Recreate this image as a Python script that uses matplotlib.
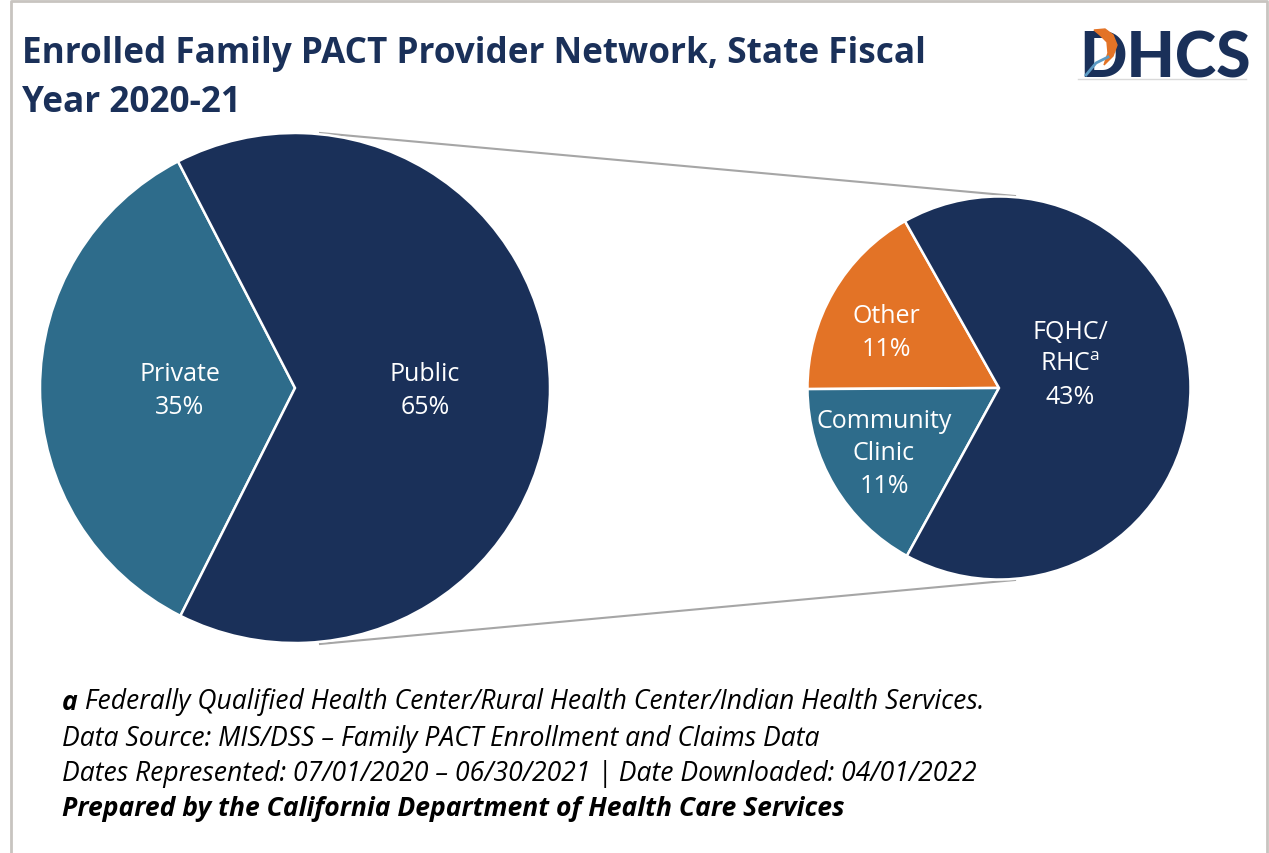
import matplotlib
matplotlib.use('Agg')
import matplotlib.pyplot as plt
from matplotlib.patches import Polygon
from matplotlib.lines import Line2D

# ---------------- data ----------------
title_lines = ["Enrolled Family PACT Provider Network, State Fiscal", "Year 2020-21"]
main_labels = ["Private", "Public"]
main_values = [35, 65]
sub_labels = ["Other", "Community\nClinic", "FQHC/\nRHC$^{\\mathrm{a}}$"]
sub_values = [11, 11, 43]
foot_a = "a"
foot_lines = [" Federally Qualified Health Center/Rural Health Center/Indian Health Services.",
              "Data Source: MIS/DSS \u2013 Family PACT Enrollment and Claims Data",
              "Dates Represented: 07/01/2020 \u2013 06/30/2021 | Date Downloaded: 04/01/2022",
              "Prepared by the California Department of Health Care Services"]

NAVY = "#1A3059"
TEAL = "#2E6C8B"
ORANGE = "#E37326"
GRAY = "#A6A6A6"

plt.rcParams['font.family'] = ['Open Sans', 'DejaVu Sans']
plt.rcParams['mathtext.fontset'] = 'custom'
plt.rcParams['mathtext.rm'] = 'Open Sans'

W, H = 1269, 854
fig = plt.figure(figsize=(W / 100, H / 100), dpi=100)
ax = fig.add_axes([0, 0, 1, 1])


def Y(y):
    return H - y


renderer = fig.canvas.get_renderer()


def fit(t, target):
    w = t.get_window_extent(renderer).width
    t.set_fontsize(t.get_fontsize() * target / w)
    return t.get_fontsize()


# ---------------- pies ----------------
wp = dict(edgecolor='white', linewidth=1.8)
ax.pie(main_values, colors=[TEAL, NAVY], startangle=117.3, counterclock=True,
       center=(295, Y(389)), radius=255, wedgeprops=wp)
ax.pie(sub_values, colors=[ORANGE, TEAL, NAVY], startangle=119.4, counterclock=True,
       center=(999, Y(389)), radius=191.5, wedgeprops=wp)

ax.set_xlim(0, W)
ax.set_ylim(0, H)
ax.set_aspect('equal')
ax.axis('off')

# connector lines
ax.add_line(Line2D([320, 1015], [Y(134), Y(197)], color=GRAY, lw=1.5, zorder=0))
ax.add_line(Line2D([320, 1015], [Y(645), Y(581)], color=GRAY, lw=1.5, zorder=0))

# labels
LFS = 18
LSP = 1.38
ax.text(180, Y(391), f"{main_labels[0]}\n{main_values[0]}%", ha='center', va='center',
        color='white', fontsize=LFS, linespacing=LSP)
ax.text(425, Y(391), f"{main_labels[1]}\n{main_values[1]}%", ha='center', va='center',
        color='white', fontsize=LFS, linespacing=LSP)
sub_pos = [(886, 333), (884, 454), (1070, 365)]
for lab, v, (x, y) in zip(sub_labels, sub_values, sub_pos):
    ax.text(x, Y(y), f"{lab}\n{v}%", ha='center', va='center', color='white',
            fontsize=LFS, linespacing=LSP)

# ---------------- title ----------------
t1 = ax.text(22, Y(63), title_lines[0], ha='left', va='baseline', color=NAVY,
             fontsize=24, fontweight='bold')
fs = fit(t1, 906)
ax.text(22, Y(112), title_lines[1], ha='left', va='baseline', color=NAVY,
        fontsize=fs, fontweight='bold')

# ---------------- logo ----------------
ax.text(1079, Y(78), "DHCS", ha='left', va='baseline', color=NAVY, fontsize=45,
        fontweight='black', family='Lato')
ax.add_patch(Polygon([(1094, Y(31)), (1105, Y(30)), (1113, Y(36)), (1117, Y(46)), (1113, Y(57)),
                      (1104, Y(66)), (1108, Y(54)), (1107, Y(43)), (1100, Y(36))],
                     closed=True, color=ORANGE, zorder=5))
ax.add_line(Line2D([1086, 1096, 1108], [Y(76), Y(64), Y(58)], color="#5C9BC4", lw=2, zorder=5))
ax.add_line(Line2D([1078, 1246], [Y(80), Y(80)], color="#D9D9D9", lw=1, zorder=5))

# ---------------- footnotes ----------------
ta = ax.text(62, Y(710), foot_a, ha='left', va='baseline', color='black', fontsize=15,
             fontweight='bold', style='italic')
tb = ax.annotate(foot_lines[0], xy=(1, 0), xycoords=ta, ha='left', va='bottom', color='black',
                 fontsize=15, style='italic')
t2 = ax.text(62, Y(746), foot_lines[1], ha='left', va='baseline', color='black', fontsize=15,
             style='italic')
ffs = fit(t2, 758)
for t in (ta, tb):
    t.set_fontsize(ffs)
ax.text(62, Y(781), foot_lines[2], ha='left', va='baseline', color='black', fontsize=ffs,
        style='italic')
ax.text(62, Y(816), foot_lines[3], ha='left', va='baseline', color='black', fontsize=ffs,
        style='italic', fontweight='bold')

# ---------------- border ----------------
ax.add_line(Line2D([11, 11, 1267, 1267], [0, Y(2), Y(2), 0], color="#C8C4C0", lw=2, zorder=6))

fig.savefig("out.png", dpi=100)
